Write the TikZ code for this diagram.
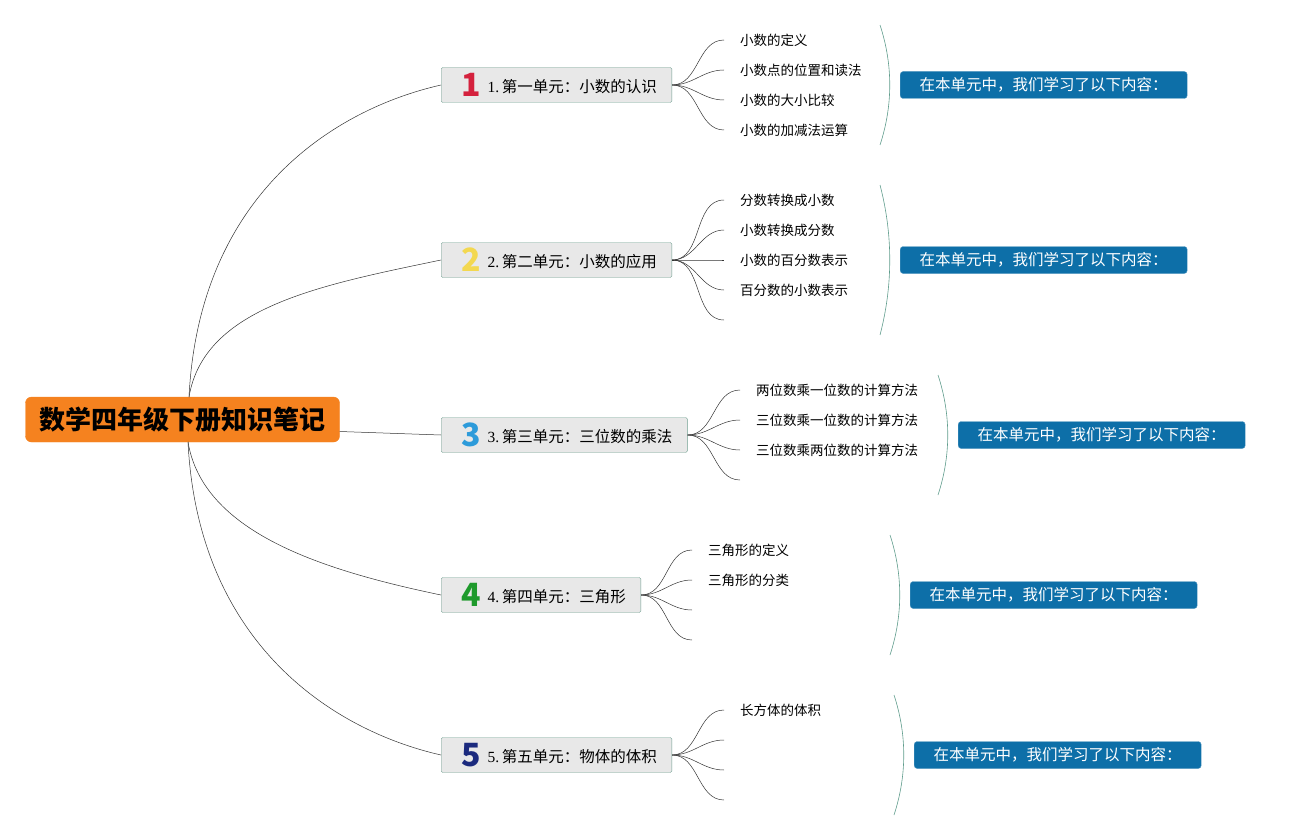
\documentclass[tikz,border=0pt]{standalone}
\usepackage{fontspec}
\setmainfont{Noto Sans CJK SC}
\newfontfamily\numfont{Liberation Serif}
\usepackage{xcolor}
\usepackage{tikz}
\usetikzlibrary{positioning}

\definecolor{rootorange}{HTML}{F5821F}
\definecolor{unitgray}{HTML}{E8E8E8}
\definecolor{unitline}{HTML}{6E9E8E}
\definecolor{sumblue}{HTML}{0D6FA8}
\definecolor{bracegreen}{HTML}{5F9C8C}
\definecolor{numred}{HTML}{D4213D}
\definecolor{numyellow}{HTML}{F3D850}
\definecolor{numblue}{HTML}{2D9BDA}
\definecolor{numgreen}{HTML}{1E9A2C}
\definecolor{numnavy}{HTML}{1B2A7E}

\begin{document}
\begin{tikzpicture}[
      x=1pt,y=-1pt,
      root_node/.style={
         rectangle,
         rounded corners=6pt,
         fill=rootorange,
         draw=rootorange,
         inner xsep=14pt,
         minimum height=45pt,
         font=\fontsize{26}{30}\selectfont\bfseries},
      unit_node/.style={
         rectangle,
         rounded corners=1.5pt,
         fill=unitgray,
         draw=unitline,
         anchor=west,
         inner xsep=15pt,
         minimum height=35pt,
         font=\fontsize{15.5}{18}\selectfont},
      leaf_txt/.style={
         inner sep=0pt,
         anchor=west,
         font=\fontsize{13.5}{16}\selectfont},
      sum_node/.style={
         rectangle,
         rounded corners=3pt,
         fill=sumblue,
         draw=sumblue!70!white,
         text=white,
         anchor=west,
         inner xsep=14pt,
         minimum height=27pt,
         minimum width=287pt,
         font=\fontsize{15.5}{18}\selectfont},
      branch/.style={
         draw=black!80,
         line width=0.5pt},
      brace_line/.style={
         draw=bracegreen,
         line width=0.6pt}
]
      \useasboundingbox (0,0) rectangle (1290,840);

      %root
      \node[root_node] (root) at (182.5,419.5) {数学四年级下册知识笔记};

      %units, brackets and summaries
      \foreach \n/\y/\c/\txt/\h/\bx/\sx in {% number/y/colour/text/half height/bracket x/summary x
        1/85/numred/第一单元：小数的认识/60/880/900,
        2/260/numyellow/第二单元：小数的应用/75/880/900,
        3/435/numblue/第三单元：三位数的乘法/60/938/958,
        4/595/numgreen/第四单元：三角形/60/890/910,
        5/755/numnavy/第五单元：物体的体积/60/894/914}
      {
        \node[unit_node] (u\n) at (441,\y)
          {\hspace*{5pt}\raisebox{-4pt}{\fontsize{32}{32}\selectfont\bfseries\color{\c}\n}\hspace{7pt}{\numfont\n.}\,\txt};
        \coordinate (bt\n) at (\bx,\y-\h);
        \coordinate (bb\n) at (\bx,\y+\h);
        \draw[brace_line] (bt\n) .. controls +(13,\h*0.66) and +(13,-\h*0.66) .. (bb\n);
        \node[sum_node] (s\n) at (\sx,\y) {在本单元中，我们学习了以下内容：};
      }

      %root to units
      \coordinate (rt) at (189,397);
      \coordinate (rb) at (188,442);
      \draw[branch] (rt) .. controls +(10,-200) and +(-110,25) .. (u1.west);
      \draw[branch] (rt) .. controls +(15,-90) and +(-120,25) .. (u2.west);
      \draw[branch] ([yshift=-12pt]root.east) -- (u3.west);
      \draw[branch] (rb) .. controls +(15,90) and +(-120,-25) .. (u4.west);
      \draw[branch] (rb) .. controls +(10,200) and +(-110,-25) .. (u5.west);

      %leaves
      \foreach \u/\j/\x/\y/\txt in {% unit/leaf/x/y/text
        1/a/724/40/小数的定义,
        1/b/724/70/小数点的位置和读法,
        1/c/724/100/小数的大小比较,
        1/d/724/130/小数的加减法运算,
        2/a/724/200/分数转换成小数,
        2/b/724/230/小数转换成分数,
        2/c/724/260/小数的百分数表示,
        2/d/724/290/百分数的小数表示,
        3/a/740/390/两位数乘一位数的计算方法,
        3/b/740/420/三位数乘一位数的计算方法,
        3/c/740/450/三位数乘两位数的计算方法,
        4/a/692/550/三角形的定义,
        4/b/692/580/三角形的分类,
        5/a/724/710/长方体的体积}
      {
        \coordinate (l\u\j) at (\x,\y);
        \draw[branch] (u\u.east) to[out=0,in=180] (l\u\j);
        \node[leaf_txt, right=16pt of l\u\j] (t\u\j) {\txt};
      }

      %empty leaves
      \foreach \u/\j/\x/\y in {2/e/724/320, 3/d/740/480, 4/c/692/610, 4/d/692/640,
        5/b/724/740, 5/c/724/770, 5/d/724/800}
      {
        \coordinate (l\u\j) at (\x,\y);
        \draw[branch] (u\u.east) to[out=0,in=180] (l\u\j);
      }
\end{tikzpicture}
\end{document}
